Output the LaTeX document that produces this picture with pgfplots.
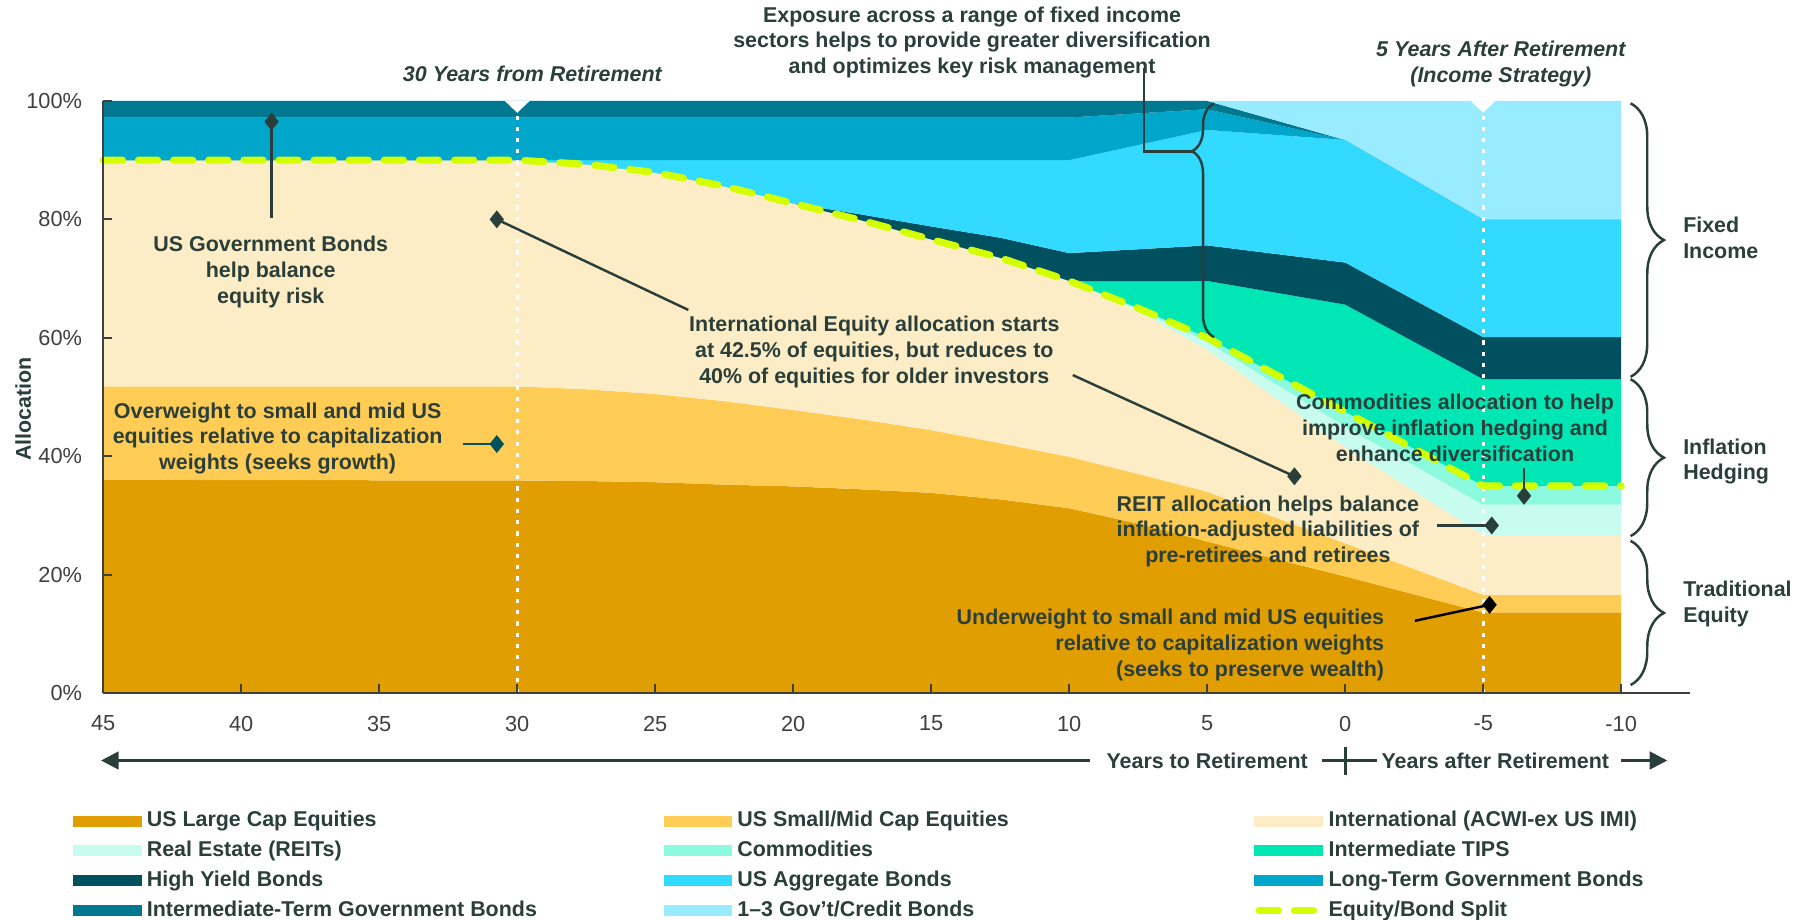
\documentclass[border=0pt]{standalone}
\usepackage{fontspec}
\setmainfont{Liberation Sans}
\usepackage{pgfplots}
\usepackage{pgfplotstable}
\pgfplotsset{compat=1.18}
\usetikzlibrary{shapes.geometric,decorations.pathreplacing,arrows.meta}

\definecolor{cLC}{RGB}{224,158,0}
\definecolor{cSM}{RGB}{255,204,85}
\definecolor{cIN}{RGB}{253,237,198}
\definecolor{cRE}{RGB}{200,252,238}
\definecolor{cCO}{RGB}{140,250,222}
\definecolor{cTI}{RGB}{0,230,180}
\definecolor{cHY}{RGB}{0,80,96}
\definecolor{cAG}{RGB}{51,218,255}
\definecolor{cLT}{RGB}{0,167,202}
\definecolor{cIT}{RGB}{0,120,144}
\definecolor{cGC}{RGB}{153,235,255}
\definecolor{cSP}{RGB}{212,255,0}
\definecolor{txt}{RGB}{43,63,58}
\definecolor{tickc}{RGB}{64,64,64}

\newcommand{\af}{\fontsize{6.1pt}{7.3pt}\selectfont\bfseries}

% allocation by years to retirement (each column is one layer, in %)
\pgfplotstableread{
x     lc    smid  intl  reit comm tips  hy   agg  lt   it   gc   split
45    36.0  15.8  38.2  0    0    0     0    0    7.2  2.8  0    90
30    35.9  15.9  38.2  0    0    0     0    0    7.2  2.8  0    90
27.5  35.8  15.5  38.0  0    0    0     0    0.7  7.2  2.8  0    89.3
25    35.6  14.9  37.4  0    0    0     0    2.1  7.2  2.8  0    87.9
22.5  35.2  14.1  36.3  0    0    0     0    4.4  7.2  2.8  0    85.6
20    34.9  12.9  34.9  0    0    0     0    7.3  7.2  2.8  0    82.7
17.5  34.4  11.8  33.6  0    0    0     1.0  9.2  7.2  2.8  0    79.8
15    33.8  10.6  32.2  0    0    0     2.2  11.2 7.2  2.8  0    76.6
12.5  32.7  9.5   31.3  0    0    0     3.4  13.1 7.2  2.8  0    73.5
10    31.2  8.7   29.7  0    0    0     4.7  15.7 7.2  2.8  0    69.6
7.5   28.6  8.4   27.5  0.4  0.1  4.55  5.4  17.6 5.35 2.1  0    65.0
5     25.6  8.4   24.0  1.3  0.7  9.6   6.0  19.5 3.5  1.4  0    60.0
2.5   22.6  7.0   20.15 2.4  1.6  13.85 6.55 20.1 1.75 0.7  3.3  53.75
0     19.7  5.6   16.2  3.5  2.5  18.1  7.1  20.7 0    0    6.6  47.5
-5    13.6  3.0   10.1  5.1  3.2  18.0  7.1  19.9 0    0    20.0 35.0
-10   13.6  3.0   10.1  5.1  3.2  18.0  7.1  19.9 0    0    20.0 35.0
}\glide

\tikzset{dia/.style={diamond,fill=txt,inner sep=0pt,minimum width=4.4pt,minimum height=5.4pt}}
\pgfplotsset{
  swatch legend/.style={legend image code/.code={\fill[##1] (0cm,-0.055cm) rectangle (0.689cm,0.055cm);}},
  split legend/.style={legend image code/.code={\draw[##1] (0.05cm,0cm) -- (0.66cm,0cm);}},
}

\begin{document}
\begin{tikzpicture}
\begin{axis}[
  scale only axis, width=15.188cm, height=5.924cm,
  x dir=reverse, xmin=-10, xmax=45, ymin=0, ymax=100,
  stack plots=y, reverse stacked plots=false, clip=false, axis on top,
  axis x line*=bottom, axis y line*=left,
  axis line style={tickc,line width=0.6pt,-},
  tick align=inside, major tick length=2.5pt,
  tick style={tickc,line width=0.6pt},
  xtick={45,40,...,-10},
  xticklabels={45,40,35,30,25,20,15,10,5,0,-5,-10},
  ytick={0,20,...,100},
  yticklabel={\pgfmathprintnumber{\tick}\%},
  /pgf/number format/assume math mode=true,
  tick label style={font=\fontsize{6.2pt}{7pt}\selectfont,text=tickc},
  xticklabel style={yshift=-3pt},
  yticklabel style={xshift=-2.5pt},
  legend columns=3,
  legend cell align=left,
  legend style={draw=none,fill=none,at={(-0.0204,-0.198)},anchor=north west,
    font=\af,text=txt,row sep=2.7pt,inner sep=0pt,
    nodes={inner sep=0pt,text height=4.5pt,text depth=1.3pt},
    /tikz/every odd column/.append style={column sep=0.05cm}},
  swatch legend,
]
\addplot[fill=cLC,draw=none] table[x=x,y=lc]{\glide} \closedcycle;
\addlegendentry{\makebox[5.17cm][l]{US Large Cap Equities}}
\addplot[fill=cSM,draw=none] table[x=x,y=smid]{\glide} \closedcycle;
\addlegendentry{\makebox[5.17cm][l]{US Small/Mid Cap Equities}}
\addplot[fill=cIN,draw=none] table[x=x,y=intl]{\glide} \closedcycle;
\addlegendentry{International (ACWI-ex US IMI)}
\addplot[fill=cRE,draw=none] table[x=x,y=reit]{\glide} \closedcycle;
\addlegendentry{Real Estate (REITs)}
\addplot[fill=cCO,draw=none] table[x=x,y=comm]{\glide} \closedcycle;
\addlegendentry{Commodities}
\addplot[fill=cTI,draw=none] table[x=x,y=tips]{\glide} \closedcycle;
\addlegendentry{Intermediate TIPS}
\addplot[fill=cHY,draw=none] table[x=x,y=hy]{\glide} \closedcycle;
\addlegendentry{High Yield Bonds}
\addplot[fill=cAG,draw=none] table[x=x,y=agg]{\glide} \closedcycle;
\addlegendentry{US Aggregate Bonds}
\addplot[fill=cLT,draw=none] table[x=x,y=lt]{\glide} \closedcycle;
\addlegendentry{Long-Term Government Bonds}
\addplot[fill=cIT,draw=none] table[x=x,y=it]{\glide} \closedcycle;
\addlegendentry{Intermediate-Term Government Bonds}
\addplot[fill=cGC,draw=none] table[x=x,y=gc]{\glide} \closedcycle;
\addlegendentry{1--3 Gov't/Credit Bonds}

% white markers at 30 years before and 5 years after retirement
\draw[white,line width=0.8pt,dash pattern=on 1.2pt off 2pt] (axis cs:30,0) -- (axis cs:30,97.5);
\draw[white,line width=0.8pt,dash pattern=on 1.2pt off 2pt] (axis cs:-5,0) -- (axis cs:-5,97.5);
\fill[white] (axis cs:30.45,100) -- (axis cs:29.55,100) -- (axis cs:30,98) -- cycle;
\fill[white] (axis cs:-4.55,100) -- (axis cs:-5.45,100) -- (axis cs:-5,98) -- cycle;

\addplot[stack plots=false,cSP,line width=2pt,line cap=round,
  dash pattern=on 5.5pt off 4.5pt,split legend] table[x=x,y=split]{\glide};
\addlegendentry{Equity/Bond Split}

\draw[tickc,line width=0.6pt] (axis cs:-10,0) -- (axis cs:-12.5,0);

\node[font=\af\itshape,text=txt] at (axis cs:29.45,104.5) {30 Years from Retirement};
\node[font=\af\itshape,text=txt,align=center] at (axis cs:-5.64,106.3) {5 Years After Retirement\\(Income Strategy)};
\node[font=\af,text=txt,rotate=90] at (axis cs:47.9,48) {Allocation};

% call-outs
\node[font=\af,text=txt,align=center] at (axis cs:38.93,71.1) {US Government Bonds\\help balance\\equity risk};
\draw[txt,line width=0.7pt] (axis cs:38.9,80.2) -- (axis cs:38.9,96.5) node[dia]{};

\node[font=\af,text=txt,align=center] at (axis cs:38.68,43.0) {Overweight to small and mid US\\equities relative to capitalization\\weights (seeks growth)};
\draw[cHY,line width=0.7pt] (axis cs:31.98,42.05) -- (axis cs:30.74,42.05) node[dia,fill=cHY]{};

\node[font=\af,text=txt,align=center] at (axis cs:17.06,57.6) {International Equity allocation starts\\at 42.5\% of equities, but reduces to\\40\% of equities for older investors};
\draw[txt,line width=0.7pt] (axis cs:23.8,64.7) -- (axis cs:30.74,80.0) node[dia]{};
\draw[txt,line width=0.7pt] (axis cs:9.87,53.7) -- (axis cs:1.84,36.6) node[dia]{};

\node[font=\af,text=txt,align=center] at (axis cs:13.52,109.9) {Exposure across a range of fixed income\\sectors helps to provide greater diversification\\and optimizes key risk management};
\draw[txt,line width=0.7pt] (axis cs:7.29,105.5) -- (axis cs:7.29,91.5) -- (axis cs:5.5,91.5);
\draw[txt,line width=0.7pt,decorate,decoration={brace,mirror,amplitude=6.3pt,aspect=0.205}]
  (axis cs:4.75,99.6) -- (axis cs:4.75,60.1);

\node[font=\af,text=txt,align=center] at (axis cs:-3.98,44.8) {Commodities allocation to help\\improve inflation hedging and\\enhance diversification};
\draw[txt,line width=0.7pt] (axis cs:-6.48,38.0) -- (axis cs:-6.48,33.3) node[dia]{};

\node[font=\af,text=txt,align=center] at (axis cs:2.80,27.3) {REIT allocation helps balance\\inflation-adjusted liabilities of\\pre-retirees and retirees};
\draw[txt,line width=0.7pt] (axis cs:-3.32,28.3) -- (axis cs:-5.31,28.3) node[dia]{};

\node[font=\af,text=txt,align=right,anchor=east] at (axis cs:-1.86,8.1) {Underweight to small and mid US equities\\relative to capitalization weights\\(seeks to preserve wealth)};
\draw[black,line width=0.7pt] (axis cs:-2.53,12.2) -- (axis cs:-5.23,14.9) node[dia,fill=black]{};

% braces on the right
\draw[txt,line width=0.7pt,decorate,decoration={brace,amplitude=9.5pt}] (axis cs:-10.34,99.6) -- (axis cs:-10.34,53.4);
\draw[txt,line width=0.7pt,decorate,decoration={brace,amplitude=9.5pt}] (axis cs:-10.34,53.0) -- (axis cs:-10.34,26.5);
\draw[txt,line width=0.7pt,decorate,decoration={brace,amplitude=9.5pt}] (axis cs:-10.34,25.7) -- (axis cs:-10.34,1.35);
\node[font=\af,text=txt,align=left,anchor=west] at (axis cs:-11.8,76.9) {Fixed\\Income};
\node[font=\af,text=txt,align=left,anchor=west] at (axis cs:-11.8,39.1) {Inflation\\Hedging};
\node[font=\af,text=txt,align=left,anchor=west] at (axis cs:-11.8,15.0) {Traditional\\Equity};

% time arrow under the axis
\draw[txt,line width=0.8pt,{Triangle[length=5pt,width=5pt]}-] (axis cs:45.08,-11.4) -- (axis cs:9.24,-11.4);
\node[font=\af,text=txt] at (axis cs:5.0,-11.4) {Years to Retirement};
\draw[txt,line width=0.8pt] (axis cs:0.84,-11.4) -- (axis cs:-1.15,-11.4);
\draw[txt,line width=0.8pt] (axis cs:0,-9.1) -- (axis cs:0,-13.8);
\node[font=\af,text=txt] at (axis cs:-5.44,-11.4) {Years after Retirement};
\draw[txt,line width=0.8pt,-{Triangle[length=5pt,width=5pt]}] (axis cs:-10.0,-11.4) -- (axis cs:-11.67,-11.4);
\end{axis}
\pgfresetboundingbox
\path[use as bounding box] (-1.0332cm,-2.2615cm) rectangle (16.967cm,6.934cm);
\end{tikzpicture}
\end{document}
